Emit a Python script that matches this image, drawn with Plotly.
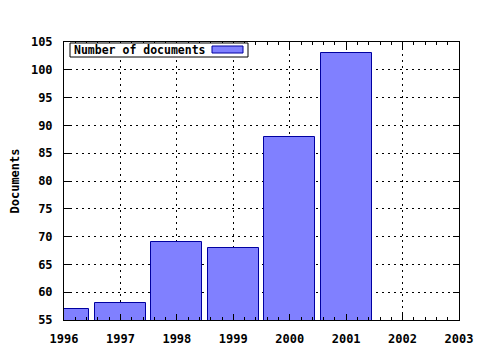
import plotly.graph_objects as go

years = [1996, 1997, 1998, 1999, 2000, 2001]
documents = [57, 58, 69, 68, 88, 103]
series_name = "Number of documents"
y_title = "Documents"

FONT = dict(family="DejaVu Sans Mono", size=12, color="black", weight="bold")

fig = go.Figure()
fig.add_trace(go.Bar(
    x=years, y=documents, width=0.9, name=series_name,
    marker=dict(color="#8080FF", line=dict(color="#0000A0", width=1)),
    showlegend=False,
))

axis_common = dict(
    showline=True, linecolor="black", linewidth=1, mirror="ticks",
    ticks="inside", ticklen=6, tickcolor="black", tickwidth=1,
    showgrid=True, gridcolor="black", gridwidth=1, griddash="2px,4px",
    zeroline=False, tickfont=FONT, automargin=False,
)

fig.update_xaxes(range=[1996, 2003], dtick=1, tick0=1996, ticklabelstandoff=8,
                 minor=dict(dtick=0.2, ticks="inside", ticklen=3, tickcolor="black", showgrid=False),
                 **axis_common)
fig.update_yaxes(range=[55, 105], dtick=5, tick0=55, ticklabelstandoff=8,
                 title=dict(text=y_title, font=FONT, standoff=8),
                 **axis_common)

# legend box (drawn manually to match layout: text then swatch)
L, R, T, B = 64, 459, 42, 320
W, H = R - L, B - T
def px(x): return (x - L) / W
def py(y): return (B - y) / H

fig.add_shape(type="rect", xref="paper", yref="paper",
              x0=px(70), x1=px(248), y0=py(57), y1=py(43),
              line=dict(color="black", width=1), fillcolor="white", layer="above")
fig.add_shape(type="rect", xref="paper", yref="paper",
              x0=px(212), x1=px(243), y0=py(53), y1=py(46),
              line=dict(color="#0000A0", width=1), fillcolor="#8080FF", layer="above")
fig.add_annotation(text=series_name, xref="paper", yref="paper",
                   x=px(72), y=py(50), xanchor="left", yanchor="middle",
                   showarrow=False, font=dict(family="DejaVu Sans Mono", size=11.5, color="black", weight="bold"))

fig.update_layout(
    width=480, height=350,
    margin=dict(l=L, r=480 - R, t=T, b=350 - B),
    plot_bgcolor="white", paper_bgcolor="white",
    bargap=0, font=FONT,
)

fig.write_html("out.html")
